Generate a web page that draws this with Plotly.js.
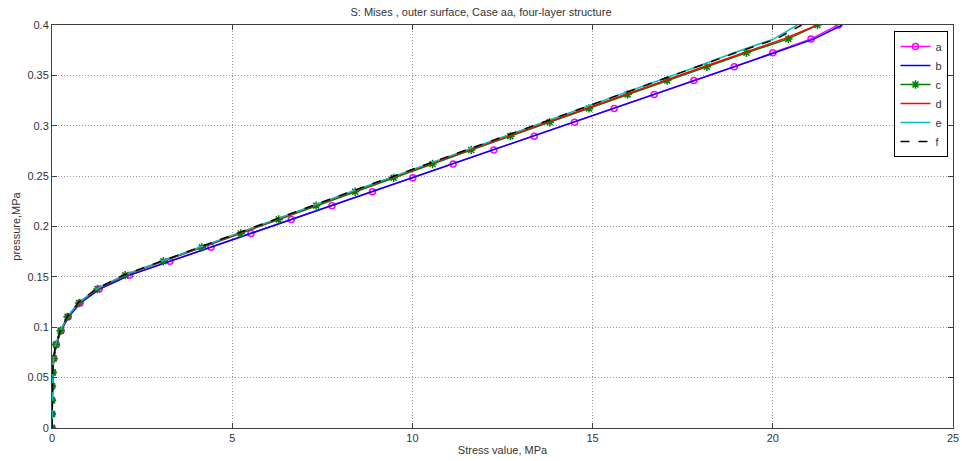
<!DOCTYPE html>
<html>
<head>
<meta charset="utf-8">
<script src="https://cdn.plot.ly/plotly-3.0.1.min.js"></script>
<style>html,body{margin:0;padding:0;background:#fff;}#chart{width:962px;height:461px;}</style>
</head>
<body>
<div id="chart"></div>
<script>
// pressure levels (MPa)
var pressure = [0, 0.0138, 0.0276, 0.0414, 0.0552, 0.069, 0.0828, 0.0966, 0.1103, 0.1241,
  0.1379, 0.1517, 0.1655, 0.1793, 0.1931, 0.2069, 0.2207, 0.2345, 0.2483, 0.2621,
  0.2759, 0.2897, 0.3034, 0.3172, 0.331, 0.3448, 0.3586, 0.3724, 0.3862, 0.4];

// stress values (MPa) per series
var seriesA = [0, 0, 0, 0, 0.02, 0.05, 0.12, 0.25, 0.45, 0.78,
  1.31, 2.15, 3.27, 4.41, 5.52, 6.64, 7.77, 8.89, 10.01, 11.13,
  12.26, 13.38, 14.5, 15.6, 16.71, 17.81, 18.93, 20.0, 21.06, 21.82];
var seriesB = [0, 0, 0, 0, 0.02, 0.05, 0.12, 0.25, 0.46, 0.79,
  1.32, 2.16, 3.28, 4.42, 5.53, 6.65, 7.78, 8.9, 10.02, 11.14,
  12.27, 13.39, 14.51, 15.62, 16.73, 17.84, 18.96, 20.05, 21.15, 21.93];
var seriesC = [0, 0, 0, 0, 0.02, 0.045, 0.11, 0.24, 0.43, 0.75,
  1.26, 2.03, 3.09, 4.16, 5.24, 6.29, 7.33, 8.41, 9.48, 10.56,
  11.63, 12.72, 13.81, 14.9, 15.97, 17.07, 18.17, 19.27, 20.43, 21.24];
var seriesD = [0, 0, 0, 0, 0.02, 0.045, 0.11, 0.24, 0.43, 0.74,
  1.25, 2.01, 3.06, 4.12, 5.19, 6.23, 7.26, 8.33, 9.4, 10.48,
  11.55, 12.64, 13.73, 14.82, 15.89, 16.99, 18.08, 19.2, 20.3, 21.24];
var seriesE = [0, 0, 0, 0, 0.02, 0.04, 0.1, 0.23, 0.42, 0.73,
  1.23, 1.99, 3.03, 4.08, 5.15, 6.19, 7.22, 8.29, 9.36, 10.43,
  11.49, 12.57, 13.65, 14.72, 15.77, 16.84, 17.89, 18.92, 20.03, 20.68];
var seriesF = [0, 0, 0, 0, 0.02, 0.04, 0.1, 0.23, 0.42, 0.72,
  1.22, 1.98, 3.02, 4.07, 5.14, 6.18, 7.21, 8.28, 9.35, 10.42,
  11.48, 12.56, 13.64, 14.71, 15.78, 16.86, 17.92, 18.97, 20.1, 20.8];

var names = ['a', 'b', 'c', 'd', 'e', 'f'];
var xTicks = [0, 5, 10, 15, 20, 25];
var yTicks = [0, 0.05, 0.1, 0.15, 0.2, 0.25, 0.3, 0.35, 0.4];
var yTickText = ['0', '0.05', '0.1', '0.15', '0.2', '0.25', '0.3', '0.35', '0.4'];

var traces = [
  {x: seriesA, y: pressure, name: names[0], mode: 'lines+markers',
   line: {color: '#FF00FF', width: 1.5},
   marker: {symbol: 'circle-open', size: 6, color: '#FF00FF', line: {width: 1.5, color: '#FF00FF'}}},
  {x: seriesB, y: pressure, name: names[1], mode: 'lines',
   line: {color: '#0000FF', width: 1.5}},
  {x: seriesC, y: pressure, name: names[2], mode: 'lines+markers',
   line: {color: '#008000', width: 1.5},
   marker: {symbol: 'asterisk-open', size: 7, color: '#008000', line: {width: 1.5, color: '#008000'}}},
  {x: seriesD, y: pressure, name: names[3], mode: 'lines',
   line: {color: '#FF0000', width: 1.5}},
  {x: seriesE, y: pressure, name: names[4], mode: 'lines',
   line: {color: '#00BFBF', width: 1.5}},
  {x: seriesF, y: pressure, name: names[5], mode: 'lines',
   line: {color: '#000000', width: 1.5, dash: 'dash'}}
];

var axisCommon = {
  showline: true, linecolor: '#404040', linewidth: 1, mirror: 'ticks',
  ticks: 'inside', ticklen: 5, tickcolor: '#404040', tickwidth: 1,
  showgrid: true, gridcolor: '#999999', griddash: '1px,2px', gridwidth: 1,
  zeroline: false, tickfont: {family: 'Liberation Sans, Arial, sans-serif', size: 11, color: '#333333'}
};

var layout = {
  width: 962, height: 461,
  margin: {l: 52, r: 9, t: 25, b: 33},
  paper_bgcolor: '#ffffff', plot_bgcolor: '#ffffff',
  font: {family: 'Liberation Sans, Arial, sans-serif', size: 11, color: '#333333'},
  title: {text: 'S: Mises , outer surface, Case aa, four-layer structure',
          font: {size: 11, color: '#333333'}, x: 0.5, xanchor: 'center', y: 0.983, yanchor: 'top'},
  xaxis: Object.assign({}, axisCommon, {
    range: [0, 25], tickvals: xTicks, ticktext: xTicks.map(String),
    title: {text: 'Stress value, MPa', font: {size: 11, color: '#333333'}, standoff: 3}
  }),
  yaxis: Object.assign({}, axisCommon, {
    range: [0, 0.4], tickvals: yTicks, ticktext: yTickText,
    title: {text: 'pressure,MPa', font: {size: 11, color: '#333333'}, standoff: 4}
  }),
  showlegend: true,
  legend: {x: 0.995, xanchor: 'right', y: 0.985, yanchor: 'top',
           bgcolor: '#ffffff', bordercolor: '#000000', borderwidth: 1,
           font: {size: 11, color: '#333333'}, tracegroupgap: 0}
};

Plotly.newPlot('chart', traces, layout, {staticPlot: true, displayModeBar: false});
</script>
</body>
</html>
